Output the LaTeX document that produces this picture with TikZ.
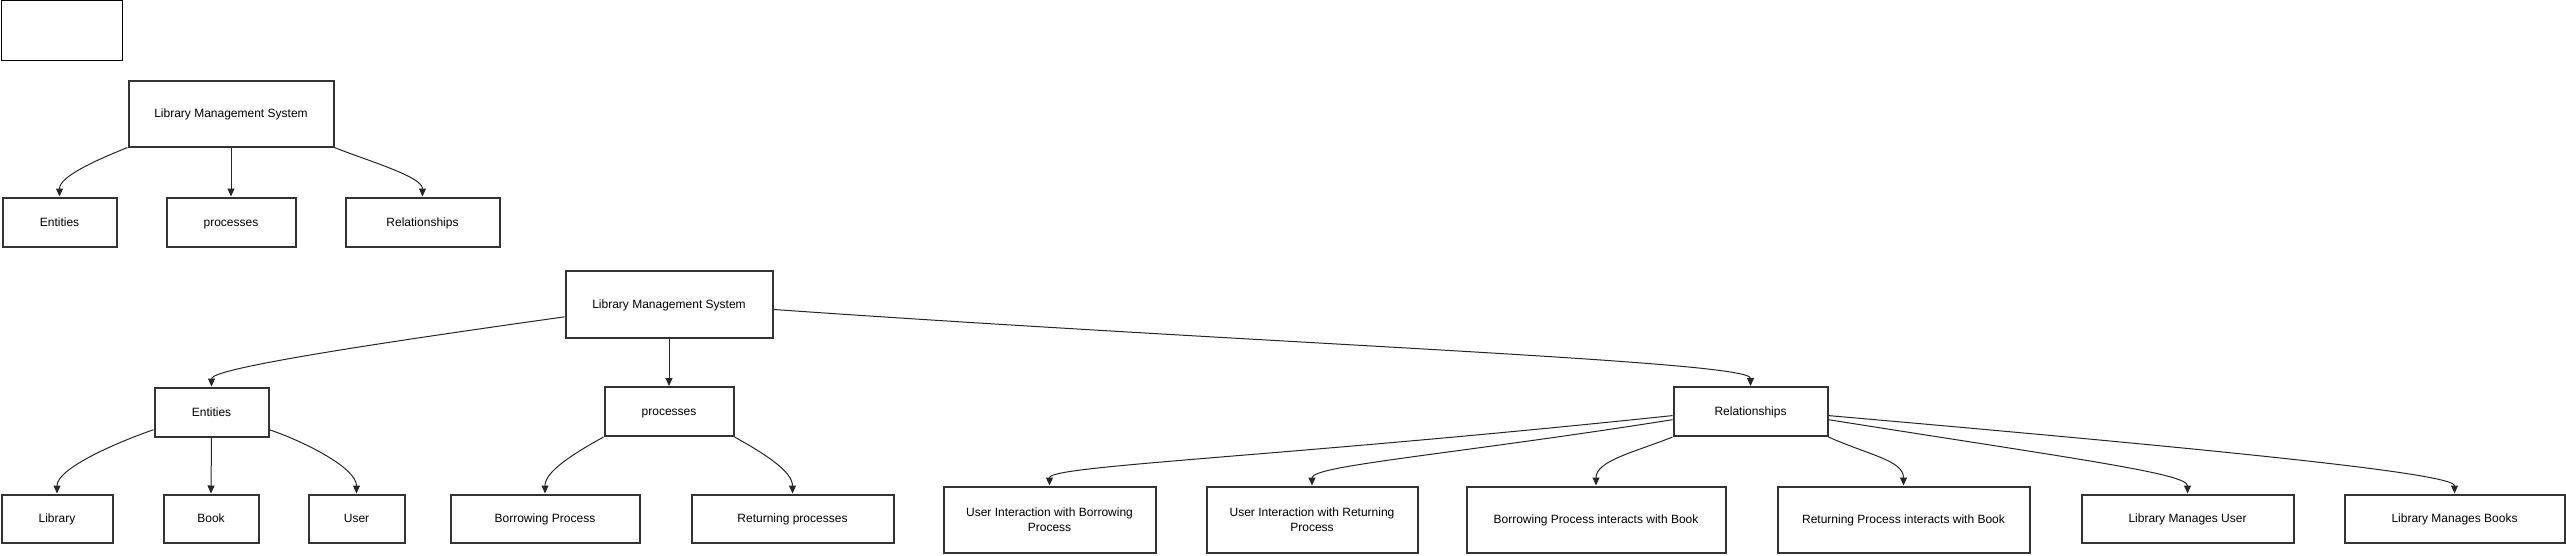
\documentclass[tikz,border=0pt]{standalone}
\usepackage{fontspec}
\setmainfont{Liberation Sans}
\usetikzlibrary{arrows.meta}
\begin{document}
\begin{tikzpicture}[x=1pt,y=-1pt,
  box/.style={draw=black!80, line width=2pt, fill=white, inner sep=0pt, align=center, font=\fontsize{12}{15}\selectfont},
  one/.style={box, text height=10.86pt, text depth=2.54pt},
  edge/.style={draw=black!85, line width=1pt, -{Triangle[length=8pt,width=7pt]}}]
\useasboundingbox (0,0) rectangle (2566,555);
\node[draw, line width=1pt, minimum width=121pt, minimum height=60pt, inner sep=0pt] (blank) at (61.5,30.5) {};
% top tree
\node[one, minimum width=205pt, minimum height=66pt] (lms1) at (231,113.5) {Library Management System};
\node[one, minimum width=114pt, minimum height=49pt] (ent1) at (59.5,222) {Entities};
\node[one, minimum width=129pt, minimum height=49pt] (proc1) at (231,222) {processes};
\node[one, minimum width=154pt, minimum height=49pt] (rel1) at (422.5,222) {Relationships};
% bottom tree
\node[one, minimum width=207pt, minimum height=67pt] (lms2) at (669,304) {Library Management System};
\node[one, minimum width=114pt, minimum height=49pt] (ent2) at (211.5,412) {Entities};
\node[one, minimum width=129pt, minimum height=49pt] (proc2) at (669,411.5) {processes};
\node[one, minimum width=154pt, minimum height=49pt] (rel2) at (1750.5,411.5) {Relationships};
\node[one, minimum width=111pt, minimum height=48pt] (lib) at (57,518.5) {Library};
\node[one, minimum width=95pt, minimum height=48pt] (book) at (211,518.5) {Book};
\node[one, minimum width=96pt, minimum height=48pt] (user) at (356.5,518.5) {User};
\node[one, minimum width=189pt, minimum height=48pt] (borrow) at (545,518.5) {Borrowing Process};
\node[one, minimum width=202pt, minimum height=48pt] (ret) at (792.5,518.5) {Returning processes};
\node[box, minimum width=212pt, minimum height=66pt] (uib) at (1049.5,519.5) {User Interaction with Borrowing\\Process};
\node[box, minimum width=211pt, minimum height=66pt] (uir) at (1312,519.5) {User Interaction with Returning\\Process};
\node[one, minimum width=259pt, minimum height=66pt] (bpb) at (1596,519.5) {Borrowing Process interacts with Book};
\node[one, minimum width=252pt, minimum height=66pt] (rpb) at (1903.5,519.5) {Returning Process interacts with Book};
\node[one, minimum width=212pt, minimum height=48pt] (lmu) at (2187.5,518.5) {Library Manages User};
\node[one, minimum width=220pt, minimum height=48pt] (lmb) at (2454.5,518.5) {Library Manages Books};
% edges top
\draw[edge] (lms1.south west) to[out=202,in=90,out distance=35pt,in distance=20pt] (ent1.north);
\draw[edge] (lms1.south) -- (proc1.north);
\draw[edge] (lms1.south east) to[out=-22,in=90,out distance=35pt,in distance=20pt] (rel1.north);
% edges bottom
\draw[edge] (lms2.187) to[out=188,in=90,out distance=200pt,in distance=18pt] (ent2.north);
\draw[edge] (lms2.south) -- (proc2.north);
\draw[edge] (lms2.-3) to[out=-4,in=90,out distance=500pt,in distance=25pt] (rel2.north);
\draw[edge] (ent2.197) to[out=199,in=90,out distance=40pt,in distance=25pt] (lib.north);
\draw[edge] (ent2.south) -- (book.north);
\draw[edge] (ent2.-17) to[out=-19,in=90,out distance=40pt,in distance=25pt] (user.north);
\draw[edge] (proc2.south west) to[out=209,in=90,out distance=35pt,in distance=22pt] (borrow.north);
\draw[edge] (proc2.south east) to[out=-29,in=90,out distance=35pt,in distance=22pt] (ret.north);
\draw[edge] (rel2.183) to[out=186,in=90,out distance=400pt,in distance=20pt] (uib.north);
\draw[edge] (rel2.186) to[out=189,in=90,out distance=220pt,in distance=20pt] (uir.north);
\draw[edge] (rel2.south west) to[out=202,in=90,out distance=40pt,in distance=25pt] (bpb.north);
\draw[edge] (rel2.south east) to[out=-24,in=90,out distance=45pt,in distance=25pt] (rpb.north);
\draw[edge] (rel2.-6) to[out=-9,in=90,out distance=250pt,in distance=20pt] (lmu.north);
\draw[edge] (rel2.-3) to[out=-5,in=90,out distance=400pt,in distance=20pt] (lmb.north);
\end{tikzpicture}
\end{document}
